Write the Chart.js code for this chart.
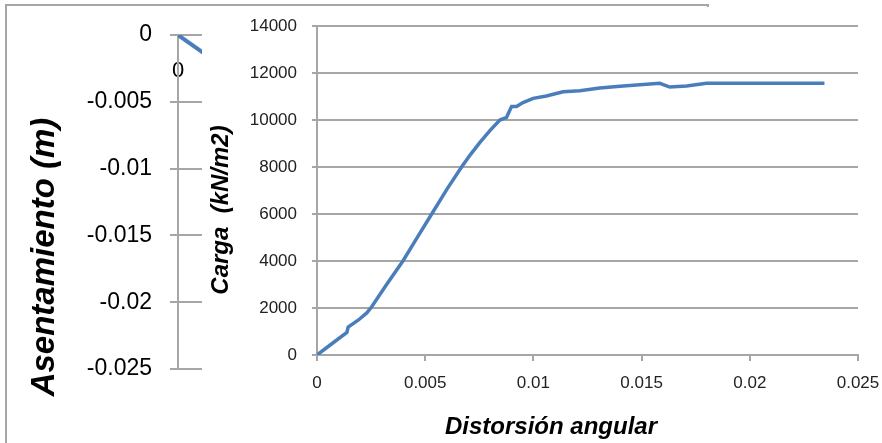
<!DOCTYPE html>
<html><head><meta charset="utf-8">
<script src="https://cdn.jsdelivr.net/npm/chart.js@4"></script>
<style>
html,body{margin:0;padding:0;background:#fff;overflow:hidden;width:882px;height:443px;}
#frame{position:absolute;left:5px;top:4px;width:700px;height:470px;border:2px solid #a6a6a6;box-sizing:content-box;}
#backWrap{position:absolute;left:0;top:0;width:882px;height:443px;}
#frontWrap{position:absolute;left:202px;top:7px;width:680px;height:436px;background:#fff;}
canvas{display:block;}
</style></head><body>
<div id="frame"></div>
<div id="backWrap"><canvas id="back" width="882" height="443"></canvas></div>
<div id="frontWrap"><canvas id="front" width="680" height="436"></canvas></div>
<script>
// ---- data: back chart (asentamiento) ----
const asentTicks = [0, -0.005, -0.01, -0.015, -0.02, -0.025];
const backXTicks = [0];
const backX = [0, 0.005];
const backY = [0, -0.0055];
const backYTitle = 'Asentamiento (m)';

// ---- data: front chart (carga vs distorsión) ----
const distorsion = [0, 0.0007, 0.00138, 0.00144, 0.0019, 0.0023, 0.00252, 0.0032, 0.00397, 0.0046, 0.0053, 0.006, 0.00668, 0.0071, 0.00753, 0.008, 0.00845, 0.00876, 0.00885, 0.00899, 0.00922, 0.00952, 0.00999, 0.0106, 0.01137, 0.01214, 0.01307, 0.014, 0.01584, 0.0163, 0.01708, 0.018, 0.02, 0.02345];
const carga = [0, 490, 960, 1190, 1480, 1790, 2040, 2980, 4000, 4950, 6000, 7050, 8000, 8540, 9050, 9560, 10000, 10110, 10300, 10570, 10570, 10740, 10920, 11020, 11200, 11245, 11360, 11440, 11560, 11400, 11450, 11560, 11560, 11560];
const cargaTicks = [0, 2000, 4000, 6000, 8000, 10000, 12000, 14000];
const distTicks = [0, 0.005, 0.01, 0.015, 0.02, 0.025];
const frontYTitle = 'Carga  (kN/m2)';
const frontXTitle = 'Distorsión angular';

const LINE = '#4a7ebb';
const GRID = '#a6a6a6';

const freeText = {
  id: 'freeText',
  afterDraw(chart, args, opts) {
    const ctx = chart.ctx;
    (opts.items || []).forEach(it => {
      ctx.save();
      ctx.translate(it.x, it.y);
      ctx.rotate(it.rot || 0);
      ctx.font = it.font;
      ctx.fillStyle = it.color || '#000';
      ctx.textAlign = 'center';
      ctx.textBaseline = 'middle';
      ctx.fillText(it.text, 0, 0);
      ctx.restore();
    });
  }
};

new Chart(document.getElementById('back'), {
  type: 'scatter',
  data: { datasets: [{ data: backX.map((x, i) => ({ x, y: backY[i] })), showLine: true, borderColor: LINE, borderWidth: 4, pointRadius: 0 }] },
  options: {
    responsive: false, animation: false,
    layout: { padding: { top: 35, bottom: 74, left: 0, right: 182 } },
    plugins: { legend: { display: false }, tooltip: { enabled: false },
      freeText: { items: [{ text: backYTitle, x: 45, y: 257, rot: -Math.PI / 2, font: 'italic bold 33px "Liberation Sans"', color: '#000' }] } },
    scales: {
      x: { type: 'linear', min: 0, max: 0.025, position: { y: 0 },
        grid: { display: false, drawTicks: false }, border: { display: false },
        afterBuildTicks: s => { s.ticks = backXTicks.map(v => ({ value: v })); },
        afterFit: s => { s.height = 0; s.paddingLeft = 0; s.paddingRight = 0; },
        ticks: { padding: 23, color: '#000', font: { family: 'Liberation Sans', size: 22 }, callback: v => String(v), maxRotation: 0 } },
      y: { min: -0.025, max: 0,
        afterBuildTicks: s => { s.ticks = asentTicks.map(v => ({ value: v })); },
        afterFit: s => { s.width = 178; s.paddingTop = 0; s.paddingBottom = 0; },
        grid: { color: GRID, lineWidth: 2, tickLength: 8 },
        border: { color: GRID, width: 2 },
        ticks: { padding: 18, color: '#000', font: { family: 'Liberation Sans', size: 23 }, callback: v => String(v) } }
    }
  },
  plugins: [freeText]
});

new Chart(document.getElementById('front'), {
  type: 'scatter',
  data: { datasets: [{ data: distorsion.map((x, i) => ({ x, y: carga[i] })), showLine: true, borderColor: LINE, borderWidth: 3.5, pointRadius: 0, tension: 0 }] },
  options: {
    responsive: false, animation: false,
    layout: { padding: { top: 19, bottom: 0, left: 0, right: 24 } },
    plugins: { legend: { display: false }, tooltip: { enabled: false },
      freeText: { items: [
        { text: frontYTitle, x: 19, y: 203, rot: -Math.PI / 2, font: 'italic bold 24px "Liberation Sans"', color: '#000' },
        { text: frontXTitle, x: 349, y: 420, rot: 0, font: 'italic bold 24px "Liberation Sans"', color: '#000' }
      ] } },
    scales: {
      x: { type: 'linear', min: 0, max: 0.025,
        afterBuildTicks: s => { s.ticks = distTicks.map(v => ({ value: v })); },
        afterFit: s => { s.height = 88; s.paddingLeft = 0; s.paddingRight = 0; },
        grid: { drawOnChartArea: false, color: GRID, lineWidth: 2, tickLength: 6 },
        border: { color: GRID, width: 2 },
        ticks: { padding: 12, color: '#222', maxRotation: 0, font: { family: 'Liberation Sans', size: 17 }, callback: v => String(v) } },
      y: { min: 0, max: 14000,
        afterBuildTicks: s => { s.ticks = cargaTicks.map(v => ({ value: v })); },
        afterFit: s => { s.width = 115; s.paddingTop = 0; s.paddingBottom = 0; },
        grid: { color: GRID, lineWidth: 2, tickLength: 5 },
        border: { color: GRID, width: 2 },
        ticks: { padding: 15, color: '#222', font: { family: 'Liberation Sans', size: 17 }, callback: v => String(v) } }
    }
  },
  plugins: [freeText]
});
</script>
</body></html>
